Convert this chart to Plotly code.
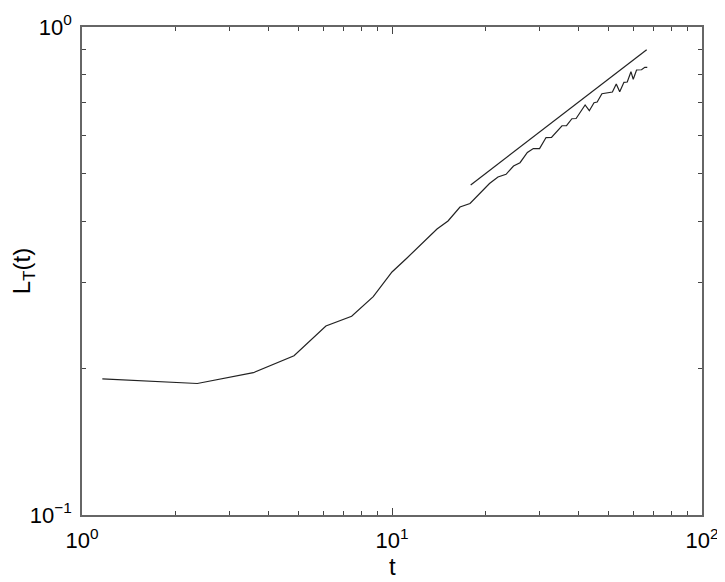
import plotly.graph_objects as go

# Main curve L_T(t)
t_vals = [1.163, 2.355, 3.57, 4.83, 6.12, 7.41, 8.7, 10.0, 11.18, 12.59, 13.97, 15.16,
          16.57, 17.85, 19.15, 20.63, 21.97, 23.33, 24.66, 25.88, 27.33, 28.57, 29.92,
          31.4, 32.7, 35.35, 36.55, 38.05, 39.25, 41.97, 43.3, 44.84, 45.9, 47.55,
          51.4, 52.9, 54.27, 56.0, 57.4, 59.0, 60.0, 61.5, 63.8, 65.4, 66.6]
L_vals = [0.190, 0.186, 0.1957, 0.212, 0.2439, 0.2554, 0.2802, 0.3148, 0.3363, 0.3626,
          0.3856, 0.4004, 0.4276, 0.4348, 0.4547, 0.4778, 0.4927, 0.4991, 0.5190,
          0.5271, 0.5531, 0.5636, 0.5636, 0.5936, 0.5939, 0.6275, 0.6280, 0.6487,
          0.6494, 0.6921, 0.6737, 0.6996, 0.7019, 0.7300, 0.7359, 0.7643, 0.7369,
          0.7704, 0.7714, 0.8099, 0.7813, 0.8164, 0.8173, 0.8267, 0.8267]

# Power-law guide line
fit_t = [17.94, 66.3]
fit_L = [0.4744, 0.8985]

x_tickvals = [1, 10, 100]
x_ticktext = ["10<sup>0</sup>", "10<sup>1</sup>", "10<sup>2</sup>"]
y_tickvals = [0.1, 1]
y_ticktext = ["10<sup>\u22121</sup>", "10<sup>0</sup>"]
x_minor = [2, 3, 4, 5, 6, 7, 8, 9, 20, 30, 40, 50, 60, 70, 80, 90]
y_minor = [0.2, 0.3, 0.4, 0.5, 0.6, 0.7, 0.8, 0.9]

FONT = "Liberation Sans, Arial, sans-serif"

fig = go.Figure()
fig.add_trace(go.Scatter(x=t_vals, y=L_vals, mode="lines",
                         line=dict(color="#222222", width=1.2), showlegend=False))
fig.add_trace(go.Scatter(x=fit_t, y=fit_L, mode="lines",
                         line=dict(color="#222222", width=1.2), showlegend=False))

axis_common = dict(
    type="log", showgrid=False, zeroline=False, automargin=False,
    showline=True, linecolor="#666666", linewidth=1.5, mirror="ticks",
    ticks="inside", ticklen=7, tickwidth=1, tickcolor="#444444",
    tickfont=dict(family=FONT, size=22, color="black"),
)

fig.update_xaxes(
    **axis_common, range=[0, 2], tickmode="array", tickvals=x_tickvals, ticktext=x_ticktext,
    ticklabelstandoff=5,
    minor=dict(tickmode="array", tickvals=x_minor, ticks="inside", ticklen=4,
               tickcolor="#444444", showgrid=False),
)
fig.update_yaxes(
    **axis_common, range=[-1, 0], tickmode="array", tickvals=y_tickvals, ticktext=y_ticktext,
    ticklabelstandoff=4,
    minor=dict(tickmode="array", tickvals=y_minor, ticks="inside", ticklen=4,
               tickcolor="#444444", showgrid=False),
    title=dict(text="L<sub>T</sub>(t)", font=dict(family=FONT, size=24, color="black"), standoff=0),
)

fig.add_annotation(text="t", xref="paper", yref="paper", x=0.5, y=-0.106,
                   xanchor="center", yanchor="middle", showarrow=False,
                   font=dict(family=FONT, size=24, color="black"))

fig.update_layout(
    width=725, height=582,
    margin=dict(l=74, r=31, t=19, b=75),
    plot_bgcolor="white", paper_bgcolor="white",
)

fig.write_html("out.html")
